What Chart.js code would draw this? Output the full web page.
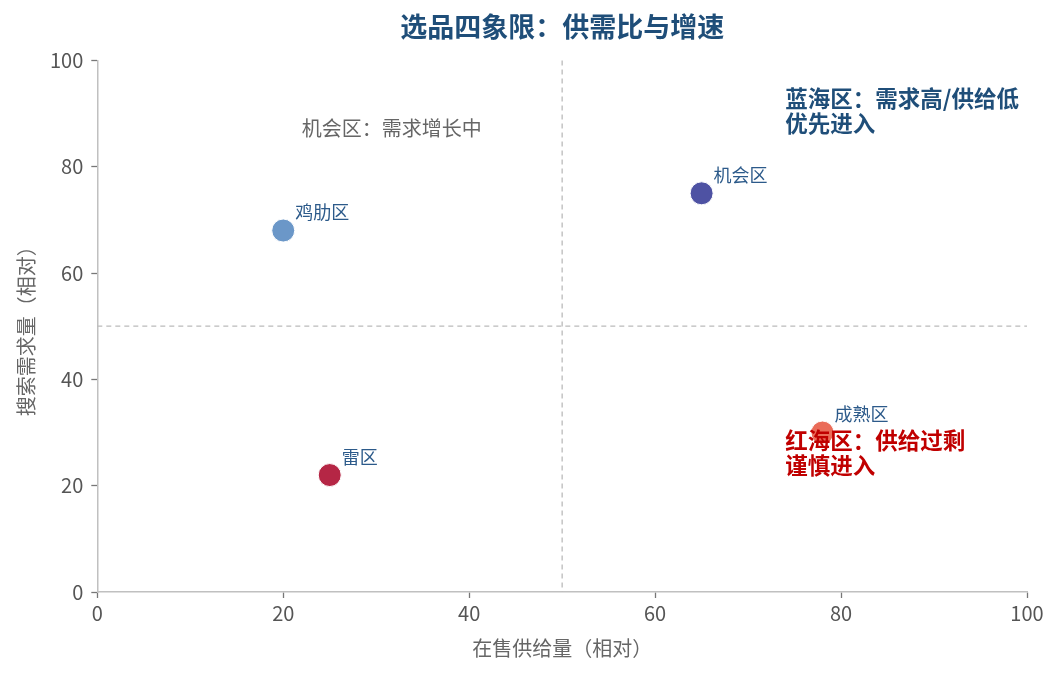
<!DOCTYPE html>
<html><head><meta charset="utf-8">
<script src="https://cdn.jsdelivr.net/npm/chart.js@4"></script>
<style>html,body{margin:0;padding:0;background:#fff}#wrap{width:1059px;height:674px}</style>
</head><body><div id="wrap"><canvas id="c"></canvas></div>
<script>
const names = ['鸡肋区','机会区','雷区','成熟区'];
const supply = [20, 65, 25, 78];
const demand = [68, 75, 22, 30];
const colors = ['#6b97c8','#4e52a3','#b52645','rgba(232,95,75,0.92)'];
const xTicks = [0,20,40,60,80,100];
const yTicks = [0,20,40,60,80,100];
const thresholdX = 50, thresholdY = 50;
const noteTexts = [['机会区：需求增长中'], ['蓝海区：需求高/供给低','优先进入'], ['红海区：供给过剩','谨慎进入']];
const noteX = [22, 74, 74];
const noteY = [87.2, 92.8, 28.5];
const noteColors = ['#666666','#1f4e79','#c00000'];
const noteBold = [false, true, true];
const FONT = '"Noto Sans CJK SC","Noto Sans",sans-serif';

const overlay = {
  id:'overlay',
  beforeDatasetsDraw(chart){
    const {ctx, chartArea:a, scales:{x,y}} = chart;
    ctx.save();
    ctx.strokeStyle = '#bbbbbb'; ctx.lineWidth = 1.3; ctx.setLineDash([5,4]);
    const px = x.getPixelForValue(thresholdX), py = y.getPixelForValue(thresholdY);
    ctx.beginPath(); ctx.moveTo(px, a.top); ctx.lineTo(px, a.bottom); ctx.stroke();
    ctx.beginPath(); ctx.moveTo(a.left, py); ctx.lineTo(a.right, py); ctx.stroke();
    ctx.restore();
  },
  afterDatasetsDraw(chart){
    const {ctx, scales:{x,y}} = chart;
    ctx.save();
    ctx.textBaseline = 'middle'; ctx.textAlign = 'left';
    ctx.font = '18px ' + FONT; ctx.fillStyle = '#2c5a8a';
    names.forEach((n,i)=>{
      ctx.fillText(n, x.getPixelForValue(supply[i]) + 12, y.getPixelForValue(demand[i]) - 18);
    });
    noteTexts.forEach((lines,i)=>{
      ctx.font = (noteBold[i] ? 'bold 22.5px ' : '20px ') + FONT;
      ctx.fillStyle = noteColors[i];
      lines.forEach((t,j)=>{
        ctx.fillText(t, x.getPixelForValue(noteX[i]), y.getPixelForValue(noteY[i]) + j*25);
      });
    });
    ctx.restore();
  }
};

new Chart(document.getElementById('c'), {
  type:'scatter',
  data:{datasets:[{
    data: supply.map((v,i)=>({x:v, y:demand[i]})),
    backgroundColor: colors, borderColor:'#ffffff', borderWidth:1,
    pointRadius:11.5, pointHoverRadius:11.5
  }]},
  options:{
    responsive:true, maintainAspectRatio:false, animation:false,
    layout:{padding:{left:10, right:32, top:4, bottom:14}},
    plugins:{
      legend:{display:false}, tooltip:{enabled:false},
      title:{display:true, fullSize:false, text:'选品四象限：供需比与增速', color:'#1f4e79',
        font:{family:FONT, size:27, weight:'bold'}, padding:{top:7, bottom:17}}
    },
    scales:{
      x:{type:'linear', min:0, max:100,
        afterBuildTicks(ax){ ax.ticks = xTicks.map(v=>({value:v})); },
        grid:{drawOnChartArea:false, drawTicks:true, tickLength:6, tickColor:'#777', tickWidth:1.3},
        border:{color:'#c0c0c0', width:1.5},
        ticks:{color:'#555', font:{family:FONT, size:20}, padding:3},
        title:{display:true, text:'在售供给量（相对）', color:'#666', font:{family:FONT, size:20}, padding:{top:8, bottom:0}}
      },
      y:{type:'linear', min:0, max:100,
        afterBuildTicks(ax){ ax.ticks = yTicks.map(v=>({value:v})); },
        grid:{drawOnChartArea:false, drawTicks:true, tickLength:6, tickColor:'#777', tickWidth:1.3},
        border:{color:'#c0c0c0', width:1.5},
        ticks:{color:'#555', font:{family:FONT, size:20}, padding:8},
        title:{display:true, text:'搜索需求量（相对）', color:'#666', font:{family:FONT, size:20}, padding:{bottom:4}}
      }
    }
  },
  plugins:[overlay]
});
</script></body></html>
